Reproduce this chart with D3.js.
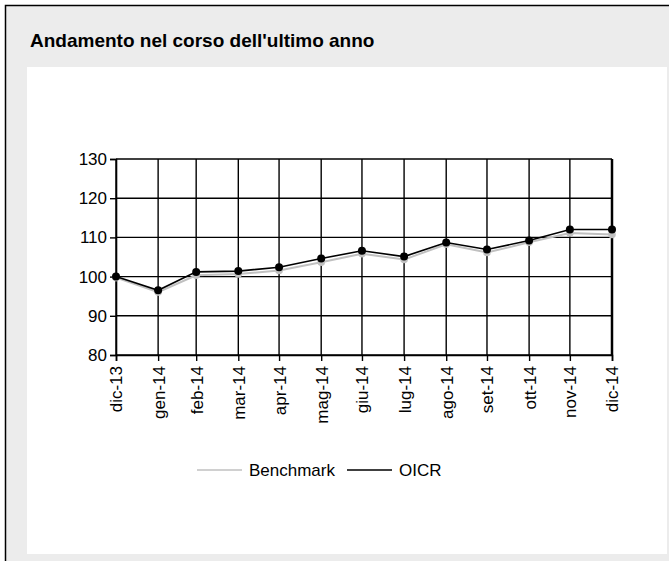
<!DOCTYPE html>
<html>
<head>
<meta charset="utf-8">
<script src="https://cdn.jsdelivr.net/npm/d3@7"></script>
<style>
  html, body { margin: 0; padding: 0; background: #fff; }
  svg text { font-family: Arial, "Liberation Sans", sans-serif; fill: #000; }
</style>
</head>
<body>
<div id="chart"></div>
<script>
const width = 669;
const height = 561;
const margin = {top: 159, right: 57, bottom: 206, left: 116};

const monthLabels = ["dic-13", "gen-14", "feb-14", "mar-14", "apr-14", "mag-14", "giu-14",
  "lug-14", "ago-14", "set-14", "ott-14", "nov-14", "dic-14"];
const monthDates = ["2013-12-31", "2014-01-31", "2014-02-28", "2014-03-31", "2014-04-30", "2014-05-31",
  "2014-06-30", "2014-07-31", "2014-08-31", "2014-09-30", "2014-10-31", "2014-11-30", "2014-12-31"];
const oicr = [100, 96.5, 101.2, 101.4, 102.4, 104.6, 106.6, 105.1, 108.7, 106.9, 109.2, 112.0, 112.0];
const benchmark = [100, 96.3, 100.6, 100.9, 101.8, 103.9, 106.1, 104.6, 108.5, 106.4, 109.0, 111.4, 111.0];
const yTicks = [80, 90, 100, 110, 120, 130];
const seriesNames = ["Benchmark", "OICR"];
const seriesColors = ["#c0c0c0", "#000000"];

const parse = d3.utcParse("%Y-%m-%d");
const dates = monthDates.map(parse);

const x = d3.scaleUtc()
  .domain(d3.extent(dates))
  .range([margin.left, width - margin.right]);

const y = d3.scaleLinear()
  .domain([80, 130])
  .range([height - margin.bottom, margin.top]);

const svg = d3.select("#chart")
  .append("svg")
  .attr("width", width)
  .attr("height", height);

// panel background
svg.append("rect")
  .attr("x", 5.5).attr("y", 5.5)
  .attr("width", width).attr("height", height)
  .attr("fill", "#ececec")
  .attr("stroke", "#000")
  .attr("stroke-width", 1.5);

svg.append("rect")
  .attr("x", 27).attr("y", 67)
  .attr("width", width - 27 - 2).attr("height", 554 - 67)
  .attr("fill", "#fff");

svg.append("text")
  .attr("x", 30).attr("y", 47)
  .attr("font-size", 19)
  .attr("font-weight", "bold")
  .text("Andamento nel corso dell'ultimo anno");

// grid
const grid = svg.append("g").attr("stroke", "#000").attr("stroke-width", 1.4);
grid.selectAll("line.h")
  .data(yTicks)
  .join("line")
  .attr("class", "h")
  .attr("x1", x.range()[0]).attr("x2", x.range()[1])
  .attr("y1", d => y(d)).attr("y2", d => y(d));
grid.selectAll("line.v")
  .data(dates)
  .join("line")
  .attr("class", "v")
  .attr("x1", d => x(d)).attr("x2", d => x(d))
  .attr("y1", y.range()[0]).attr("y2", y.range()[1]);

// right border thicker
svg.append("line")
  .attr("x1", x.range()[1]).attr("x2", x.range()[1])
  .attr("y1", y.range()[0]).attr("y2", y.range()[1])
  .attr("stroke", "#000").attr("stroke-width", 2.5);

// axes
const yAxis = svg.append("g")
  .attr("transform", `translate(${margin.left},0)`)
  .call(d3.axisLeft(y).tickValues(yTicks).tickSize(6).tickPadding(3));
yAxis.select(".domain").attr("stroke-width", 1.6);
yAxis.selectAll(".tick line").attr("stroke-width", 1.4);
yAxis.selectAll("text").attr("font-size", 17).attr("font-family", null);

const xAxis = svg.append("g")
  .attr("transform", `translate(0,${height - margin.bottom})`)
  .call(d3.axisBottom(x).tickValues(dates).tickSize(6)
    .tickFormat((d, i) => monthLabels[i]));
xAxis.select(".domain").attr("stroke-width", 1.6);
xAxis.selectAll(".tick line").attr("stroke-width", 1.4);
xAxis.selectAll("text")
  .attr("font-size", 17).attr("font-family", null)
  .attr("transform", "rotate(-90)")
  .attr("text-anchor", "end")
  .attr("x", -11).attr("y", 0).attr("dy", "0.35em");

// series
const line = d3.line()
  .x((d, i) => x(dates[i]))
  .y(d => y(d));

svg.append("path")
  .datum(benchmark)
  .attr("fill", "none")
  .attr("stroke", seriesColors[0])
  .attr("stroke-width", 2)
  .attr("transform", "translate(0,1)")
  .attr("d", line);

svg.append("g")
  .selectAll("circle")
  .data(benchmark)
  .join("circle")
  .attr("cx", (d, i) => x(dates[i]))
  .attr("cy", d => y(d) + 1)
  .attr("r", 3.8)
  .attr("fill", seriesColors[0]);

svg.append("path")
  .datum(oicr)
  .attr("fill", "none")
  .attr("stroke", seriesColors[1])
  .attr("stroke-width", 1.6)
  .attr("d", line);

svg.append("g")
  .selectAll("circle")
  .data(oicr)
  .join("circle")
  .attr("cx", (d, i) => x(dates[i]))
  .attr("cy", d => y(d))
  .attr("r", 4)
  .attr("fill", seriesColors[1]);

// legend
const legend = svg.append("g").attr("transform", "translate(197,470)");
const legendX = [0, 150];
seriesNames.forEach((name, i) => {
  const g = legend.append("g").attr("transform", `translate(${legendX[i]},0)`);
  g.append("line")
    .attr("x1", 0).attr("x2", 45)
    .attr("stroke", seriesColors[i])
    .attr("stroke-width", i === 0 ? 1.5 : 1.3);
  g.append("text")
    .attr("x", 52).attr("y", 0).attr("dy", "0.35em")
    .attr("font-size", 17)
    .text(name);
});
</script>
</body>
</html>
